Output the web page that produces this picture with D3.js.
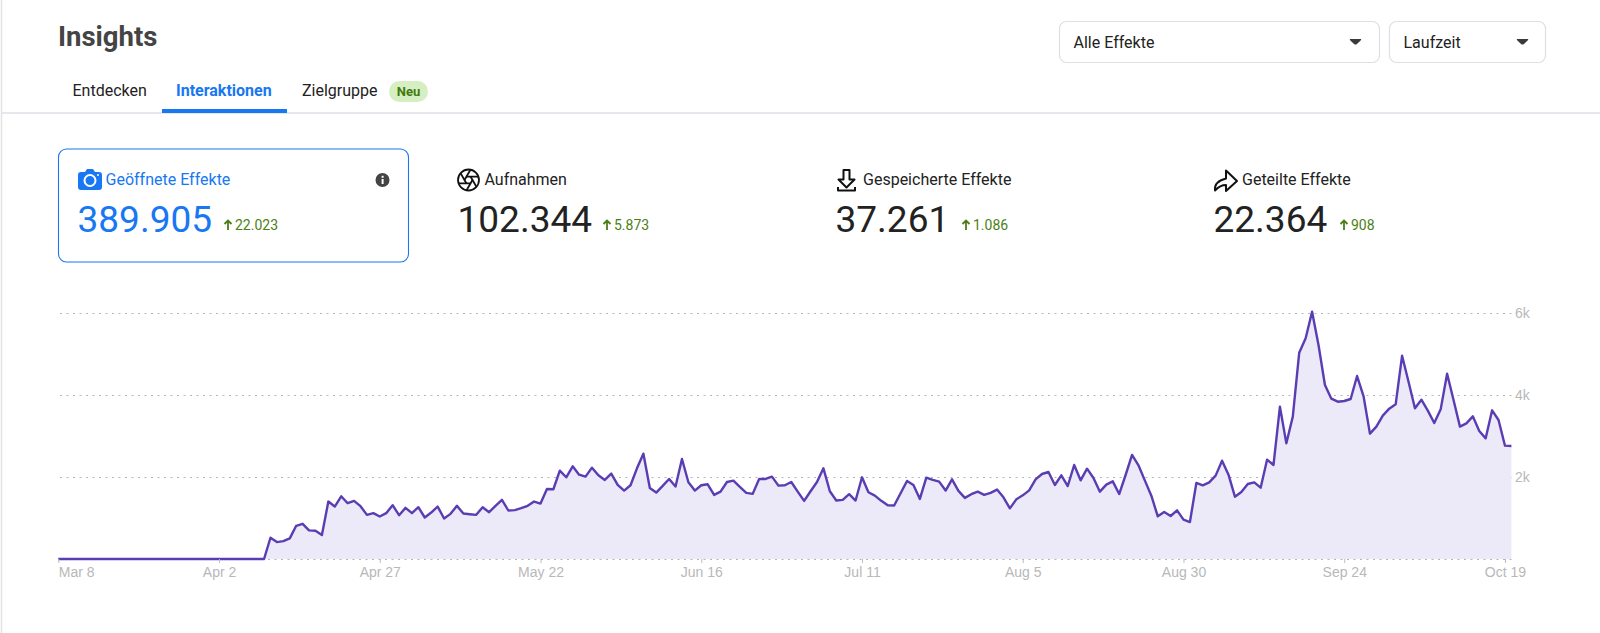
<!DOCTYPE html>
<html lang="de">
<head>
<meta charset="utf-8">
<title>Insights</title>
<script src="https://cdn.jsdelivr.net/npm/d3@7"></script>
<style>
  html, body { margin: 0; padding: 0; background: #fff; overflow: hidden; }
  svg { display: block; font-family: Roboto, sans-serif; }
  .axis text { font-family: "Liberation Sans", Arial, sans-serif; font-size: 14px; fill: #b8b8b8; }
  .axis path { display: none; }
  .axis line { stroke: #bdbdbd; }
</style>
</head>
<body>
<svg id="page" width="1600" height="633"></svg>
<script>
// tabs and dropdowns
var tabNames = ["Entdecken", "Interaktionen", "Zielgruppe"];
var dropdownNames = ["Alle Effekte", "Laufzeit"];

// metric cards
var metricNames = ["Geöffnete Effekte", "Aufnahmen", "Gespeicherte Effekte", "Geteilte Effekte"];
var metricValues = ["389.905", "102.344", "37.261", "22.364"];
var metricDeltas = ["22.023", "5.873", "1.086", "908"];

// axis labels
var xTickLabels = ["Mar 8", "Apr 2", "Apr 27", "May 22", "Jun 16", "Jul 11", "Aug 5", "Aug 30", "Sep 24", "Oct 19"];
var yTickValues = [0, 2000, 4000, 6000];
var yTickLabels = ["", "2k", "4k", "6k"];

// one value per day, starting Mar 8
var firstDay = "Mar 8";
var dailyOpens = [
  0, 0, 0, 0, 0, 0, 0, 0, 0, 0, 0, 0, 0, 0, 0, 0, 0, 0, 0, 0, 0, 0, 0, 0, 0, 0, 0, 0, 0, 0, 0, 0, 0,
  518, 413, 437, 502, 810, 858, 697, 689, 583, 1401, 1280, 1530, 1360, 1417, 1288, 1077, 1118, 1037,
  1118, 1312, 1069, 1247, 1118, 1263, 1012, 1134, 1280, 988, 1101, 1296, 1110, 1093, 1077, 1263, 1142,
  1296, 1442, 1183, 1191, 1239, 1296, 1401, 1353, 1709, 1701, 2155, 1993, 2260, 2057, 2009, 2228, 2041,
  1928, 2082, 1806, 1669, 1798, 2211, 2568, 1733, 1620, 1782, 1952, 1766, 2438, 1871, 1669, 1798, 1823,
  1563, 1644, 1879, 1912, 1758, 1612, 1588, 1952, 1952, 2009, 1790, 1798, 1879, 1644, 1418, 1652, 1879,
  2211, 1652, 1426, 1442, 1580, 1426, 1993, 1628, 1547, 1418, 1312, 1304, 1604, 1904, 1806, 1466, 1985,
  1928, 1887, 1669, 1944, 1661, 1490, 1580, 1644, 1563, 1612, 1693, 1504, 1236, 1455, 1553, 1675, 1943,
  2073, 2122, 1805, 2041, 1780, 2293, 1919, 2203, 1976, 1642, 1813, 1894, 1585, 2049, 2537, 2285, 1911,
  1545, 1041, 1146, 1049, 1187, 959, 902, 1854, 1797, 1870, 2033, 2398, 2057, 1520, 1634, 1829, 1870,
  1740, 2423, 2293, 3715, 2821, 3472, 5032, 5382, 6032, 5219, 4244, 3911, 3837, 3854, 3902, 4463, 3975,
  3057, 3228, 3496, 3667, 3772, 4959, 4325, 3675, 3886, 3618, 3317, 3650, 4520, 3878, 3228, 3309, 3480,
  3122, 2943, 3626, 3390, 2764, 2756
];

var blue = "#1877f2", green = "#4b7f16", dark = "#222";
var svg = d3.select("#page");

// header
svg.append("line").attr("x1", 1.5).attr("x2", 1.5).attr("y1", 0).attr("y2", 633)
  .attr("stroke", "#e2e2e2").attr("stroke-width", 1.5);
svg.append("text").attr("x", 58).attr("y", 46).attr("font-size", 27.5).attr("font-weight", 700)
  .attr("fill", "#444").text("Insights");

svg.append("rect").attr("x", 2).attr("y", 112).attr("width", 1598).attr("height", 2).attr("fill", "#e4e7eb");
svg.append("rect").attr("x", 162).attr("y", 109).attr("width", 125).attr("height", 4).attr("fill", blue);

var tabX = [72.5, 176, 302];
svg.selectAll(".tab").data(tabNames).join("text")
  .attr("class", "tab")
  .attr("x", (d, i) => tabX[i]).attr("y", 96)
  .attr("font-size", 16)
  .attr("font-weight", (d, i) => i == 1 ? 700 : 400)
  .attr("fill", (d, i) => i == 1 ? blue : dark)
  .text(d => d);

svg.append("rect").attr("x", 389).attr("y", 81).attr("width", 39).attr("height", 21).attr("rx", 10.5).attr("fill", "#d6efc2");
svg.append("text").attr("x", 408.5).attr("y", 96).attr("text-anchor", "middle").attr("font-size", 13)
  .attr("font-weight", 700).attr("fill", "#3f7a0e").text("Neu");

// dropdowns
var boxX = [1059.5, 1389.5], boxW = [320, 156], arrowX = [1355.5, 1522.5];
var boxes = svg.selectAll(".dropdown").data(dropdownNames).join("g").attr("class", "dropdown");
boxes.append("rect")
  .attr("x", (d, i) => boxX[i]).attr("y", 21.5).attr("width", (d, i) => boxW[i]).attr("height", 41).attr("rx", 7)
  .attr("fill", "#fff").attr("stroke", "#dcdfe3").attr("stroke-width", 1.2);
boxes.append("text")
  .attr("x", (d, i) => boxX[i] + 14).attr("y", 47.5).attr("font-size", 16).attr("fill", dark).text(d => d);
boxes.append("path")
  .attr("d", (d, i) => "M" + (arrowX[i] - 5.5) + ",39 h11 q0.6,0.8 -0.4,1.6 l-3.9,3.6 q-1.2,0.8 -2.4,0 l-3.9,-3.6 q-1,-0.8 -0.4,-1.6z")
  .attr("fill", "#3a3a3a");

// metric cards
svg.append("rect").attr("x", 58.5).attr("y", 149).attr("width", 350).attr("height", 113).attr("rx", 8)
  .attr("fill", "#fff").attr("stroke", blue).attr("stroke-width", 1.1);

var iconX = [78, 458, 836, 1214];
var labelX = [105.5, 484.5, 863, 1242];
var deltaX = [224, 603, 962, 1340];

svg.selectAll(".metric-label").data(metricNames).join("text")
  .attr("class", "metric-label")
  .attr("x", (d, i) => labelX[i]).attr("y", 185).attr("font-size", 16)
  .attr("fill", (d, i) => i == 0 ? blue : dark).text(d => d);
svg.selectAll(".metric-value").data(metricValues).join("text")
  .attr("class", "metric-value")
  .attr("x", (d, i) => iconX[i] - 0.5).attr("y", 232).attr("font-size", 37)
  .attr("fill", (d, i) => i == 0 ? blue : dark).text(d => d);
svg.selectAll(".metric-delta").data(metricDeltas).join("text")
  .attr("class", "metric-delta")
  .attr("x", (d, i) => deltaX[i] + 11).attr("y", 230).attr("font-size", 14)
  .attr("fill", green).text(d => d);
svg.selectAll(".metric-arrow").data(metricDeltas).join("path")
  .attr("class", "metric-arrow")
  .attr("d", (d, i) => "M" + (deltaX[i] + 4) + ",230 v-9 M" + (deltaX[i] + 0.5) + ",224 l3.5,-3.5 l3.5,3.5")
  .attr("fill", "none").attr("stroke", green).attr("stroke-width", 1.8);

// camera
var cam = svg.append("g").attr("transform", "translate(78,168)");
cam.append("path").attr("fill", blue)
  .attr("d", "M3,4 h4 l2,-3 h6 l2,3 h4 q3,0 3,3 v12 q0,3 -3,3 h-18 q-3,0 -3,-3 v-12 q0,-3 3,-3z");
cam.append("circle").attr("cx", 12).attr("cy", 12.5).attr("r", 5.5).attr("fill", "none").attr("stroke", "#fff").attr("stroke-width", 2);
cam.append("circle").attr("cx", 20).attr("cy", 7).attr("r", 1).attr("fill", "#fff");

// info
svg.append("circle").attr("cx", 382.5).attr("cy", 180).attr("r", 7).attr("fill", "#444");
svg.append("rect").attr("x", 381.6).attr("y", 179).attr("width", 2).attr("height", 5).attr("fill", "#fff");
svg.append("rect").attr("x", 381.6).attr("y", 175.8).attr("width", 2).attr("height", 2).attr("fill", "#fff");

// shutter
var shut = svg.append("g").attr("transform", "translate(468.5,180)")
  .attr("fill", "none").attr("stroke", "#111").attr("stroke-width", 1.8);
shut.append("circle").attr("r", 10.5);
[0, 60, 120, 180, 240, 300].forEach(function (a) {
  shut.append("line").attr("x1", 4).attr("y1", 0).attr("x2", -1.95).attr("y2", 10.3).attr("transform", "rotate(" + a + ")");
});

// download
svg.append("path").attr("fill", "none").attr("stroke", "#111").attr("stroke-width", 2).attr("stroke-linejoin", "round")
  .attr("d", "M843.5,170 h6 v9.5 h5 l-8,8 l-8,-8 h5z M838,187 v3.5 h17 v-3.5");

// share
svg.append("path").attr("fill", "none").attr("stroke", "#111").attr("stroke-width", 2).attr("stroke-linejoin", "round")
  .attr("d", "M1215,190.5 q-1,-9 11,-12 v-8 l11,10.5 l-11,10 v-6 q-6,0 -11,5.5z");

// chart
var x = d3.scaleUtc()
  .domain([new Date(Date.UTC(2021, 2, 8)), new Date(Date.UTC(2021, 9, 20))])
  .range([58.3, 1511.4]);
var y = d3.scaleLinear().domain([0, 6000]).range([559, 313]);

var parseDay = d3.utcParse("%Y %b %e");
var dayDates = dailyOpens.map((d, i) => d3.utcDay.offset(parseDay("2021 " + firstDay), i));
var tickDates = xTickLabels.map(d => parseDay("2021 " + d));

svg.selectAll(".grid").data(yTickValues).join("line")
  .attr("class", "grid")
  .attr("x1", 60).attr("x2", 1512)
  .attr("y1", d => y(d) + 0.5).attr("y2", d => y(d) + 0.5)
  .attr("stroke", "#b5b5b5").attr("stroke-width", 1).attr("stroke-dasharray", "2,4.5");

var area = d3.area().x((d, i) => x(dayDates[i])).y0(y(0)).y1(d => y(d));
var line = d3.line().x((d, i) => x(dayDates[i])).y(d => y(d));

svg.append("path").datum(dailyOpens).attr("d", area).attr("fill", "#ece9f8");
svg.append("path").datum(dailyOpens).attr("d", line)
  .attr("fill", "none").attr("stroke", "#5a3db3").attr("stroke-width", 2.4).attr("stroke-linejoin", "round");

var xAxis = d3.axisBottom(x).tickValues(tickDates).tickSize(4).tickPadding(4)
  .tickFormat((d, i) => xTickLabels[i]);
var gx = svg.append("g").attr("class", "axis").attr("transform", "translate(0,559)").call(xAxis);
gx.selectAll("text").filter((d, i) => i == 0).attr("text-anchor", "start");

var yAxis = d3.axisRight(y).tickValues(yTickValues).tickSize(0).tickPadding(3)
  .tickFormat((d, i) => yTickLabels[i]);
svg.append("g").attr("class", "axis").attr("transform", "translate(1512,0)").call(yAxis);
</script>
</body>
</html>
